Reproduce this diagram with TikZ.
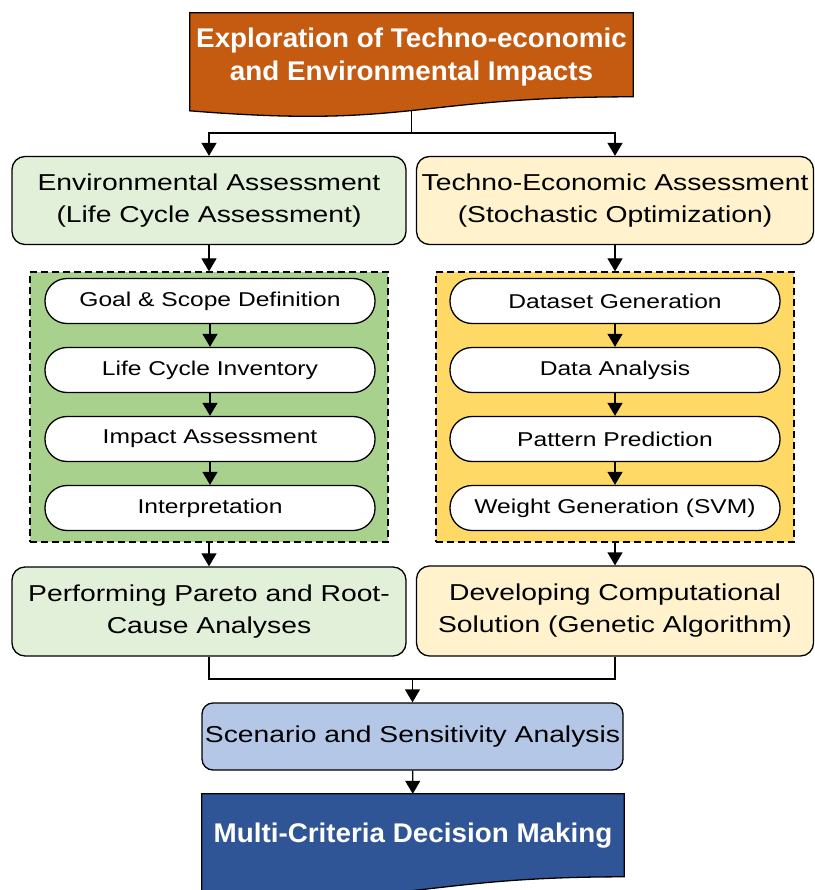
\documentclass[tikz,border=0pt]{standalone}
\usepackage{fontspec}
\setmainfont{Liberation Sans}
\newfontfamily\corpo{Liberation Sans}[FakeStretch=1.23]
\newfontfamily\titulo{Liberation Sans}[FakeStretch=1.03]
\usetikzlibrary{positioning,arrows.meta,shapes,calc,backgrounds}

\definecolor{laranja}{HTML}{C55A11}
\definecolor{azulescuro}{HTML}{2F5597}
\definecolor{azulclaro}{HTML}{B4C7E7}
\definecolor{verdeclaro}{HTML}{E2F0D9}
\definecolor{verde}{HTML}{A9D18E}
\definecolor{amareloclaro}{HTML}{FFF2CC}
\definecolor{amarelo}{HTML}{FFD966}

\begin{document}
\begin{tikzpicture}[x=1pt,y=-1pt,
    linha/.style={line width=1.3pt},
    seta/.style={linha, -{Triangle[width=15pt,length=13pt]}},
    caixa/.style={draw, line width=1.3pt, rounded corners=13pt, align=center, inner sep=1pt,
        minimum width=394pt, minimum height=88pt, font=\corpo\fontsize{23}{32}\selectfont},
    grupo/.style={draw, line width=1.3pt, dash pattern=on 7pt off 4pt,
        minimum width=358pt, minimum height=270pt},
    etapa/.style={draw, fill=white, line width=1.3pt, rounded corners=22pt, inner sep=0pt,
        minimum width=330pt, minimum height=45pt, font=\corpo\fontsize{20}{24}\selectfont},
    faixa/.style={align=center, text=white, font=\titulo\bfseries\fontsize{27}{33}\selectfont}]
    \useasboundingbox (0,0) rectangle (814,890);

    % Faixas de topo e base
    \node[faixa, minimum width=443pt, minimum height=88pt] (top) at (411.5,57)
        {Exploration of Techno-economic\\and Environmental Impacts};
    \node[faixa, minimum width=422pt, minimum height=84pt] (mcdm) at (413,836)
        {Multi-Criteria Decision Making};
    \begin{scope}[on background layer]
        \draw[linha] (top.south) -- (411.5,133) coordinate (split);
        \filldraw[fill=laranja, linha] (top.north west) -- (top.north east)
            -- ($(top.north east)+(0,84)$)
            .. controls ($(top.north east)+(-221.5,84)$) and ($(top.north west)+(221.5,116)$)
            .. ($(top.north west)+(0,98)$) -- cycle;
        \filldraw[fill=azulescuro, linha] (mcdm.north west) -- (mcdm.north east)
            -- ($(mcdm.north east)+(0,83)$)
            .. controls ($(mcdm.north east)+(-211,83)$) and ($(mcdm.north west)+(211,115)$)
            .. ($(mcdm.north west)+(0,97)$) -- cycle;
    \end{scope}

    % Avaliacoes
    \node[caixa, fill=verdeclaro] (env) at (209,200.5)
        {Environmental Assessment\\(Life Cycle Assessment)};
    \node[caixa, fill=amareloclaro, minimum width=397pt] (tea) at (615,200.5)
        {Techno-Economic Assessment\\(Stochastic Optimization)};
    \draw[seta] (split) -| (env);
    \draw[seta] (split) -| (tea);

    % Etapas da ACV
    \node[grupo, fill=verde] (lca) at (209,407) {};
    \node[etapa] (l1) at (210,301) {Goal \& Scope Definition};
    \node[etapa] (l2) at (210,370) {Life Cycle Inventory};
    \node[etapa] (l3) at (210,439) {Impact Assessment};
    \node[etapa] (l4) at (210,508) {Interpretation};

    % Etapas da otimizacao
    \node[grupo, fill=amarelo] (opt) at (615,407) {};
    \node[etapa] (r1) at (615,301) {Dataset Generation};
    \node[etapa] (r2) at (615,370) {Data Analysis};
    \node[etapa] (r3) at (615,439) {Pattern Prediction};
    \node[etapa] (r4) at (615,508) {Weight Generation (SVM)};

    \foreach \a/\b in {l1/l2,l2/l3,l3/l4,r1/r2,r2/r3,r3/r4}
        \draw[seta] (\a) -- (\b);
    \draw[seta] (env) -- (lca);
    \draw[seta] (tea) -- (opt);

    % Resultados
    \node[caixa, fill=verdeclaro, minimum height=89pt] (pareto) at (209,611.5)
        {Performing Pareto and Root-\\Cause Analyses};
    \node[caixa, fill=amareloclaro, minimum width=397pt, minimum height=90pt] (ga) at (615,611)
        {Developing Computational\\Solution (Genetic Algorithm)};
    \draw[seta] (lca) -- (pareto);
    \draw[seta] (opt) -- (ga);

    % Cenarios
    \node[caixa, fill=azulclaro, rounded corners=11pt, minimum width=421pt, minimum height=67pt] (scen)
        at (412.5,736.5) {Scenario and Sensitivity Analysis};
    \coordinate (join) at (412.5,679);
    \draw[linha] (pareto.south) |- (join) -| (ga.south);
    \draw[seta] (join) -- (scen);
    \draw[seta] (scen) -- (mcdm);
\end{tikzpicture}
\end{document}
